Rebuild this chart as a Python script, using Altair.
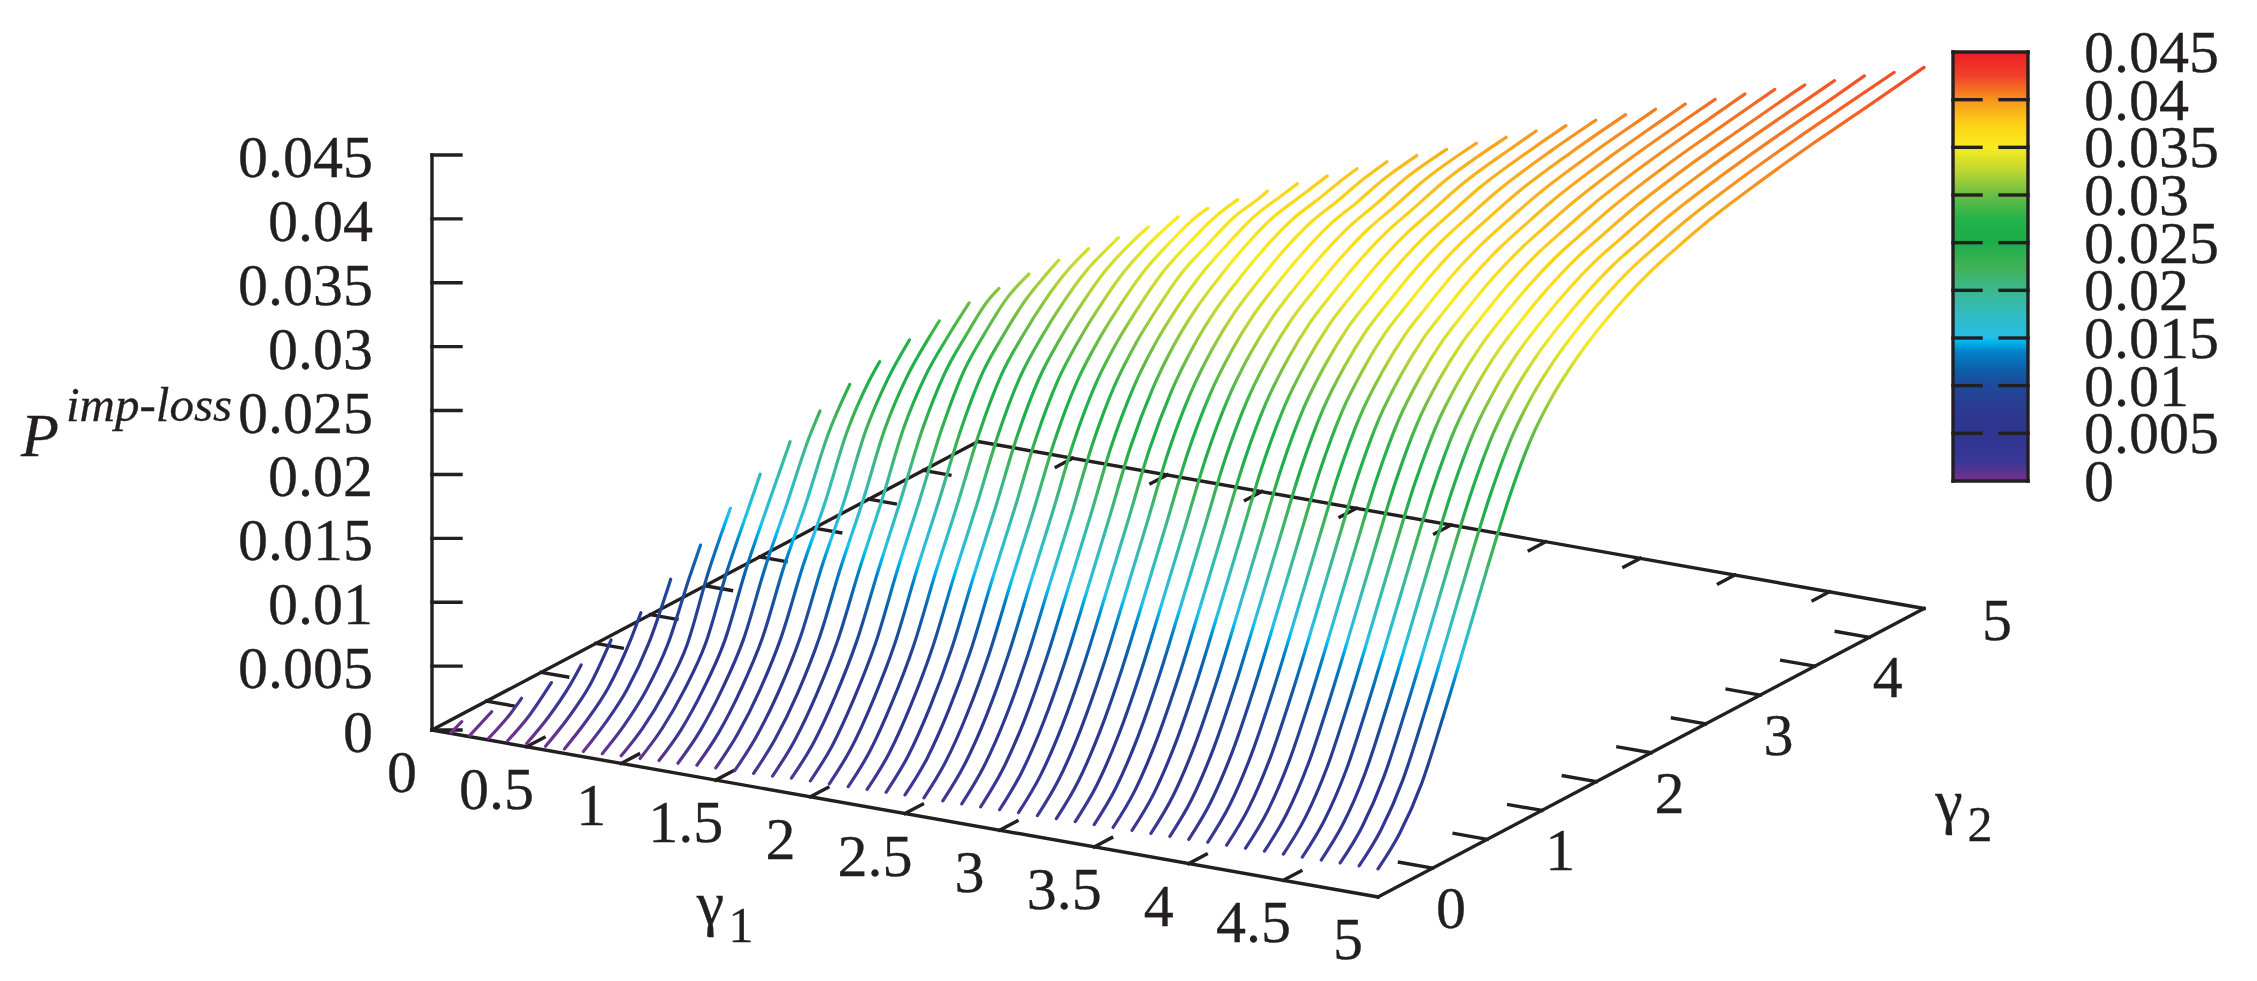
import altair as alt
import pandas as pd
import numpy as np

# ---- read values: P(gamma1, gamma2), one array per gamma2 sample, running over gamma1 ----
G00 = [.00005,.0001,.00015,.0002,.00025,.0003,.00035,.0004,.0005,.0006,
       .00065,.00075,.0008,.0009,.00095,.001,.00105,.0011,.0012,.00125,
       .00128,.00132,.00136,.0014,.00145,.00148,.00151,.00154,.00157,.0016,
       .00163,.00166,.00169,.00172,.00175,.00178,.00181,.00184,.00187,.0019,
       .00193,.00196,.00199,.00202,.00205,.00208,.00211,.00214,.00217,.0022]
G02 = [.00118,.0013,.00142,.00153,.00163,.00172,.00181,.0019,
       .00207,.00223,.00239,.00255,.0027,.00279,.00287,.00295,.00303,.0031,
       .00316,.00322,.00327,.00332,.00337,.00342,.00347,.00352,.00356,.0036,
       .00363,.00366,.00369,.00372,.00375,.00378,.00381,.00384,.00387,.0039,
       .00392,.00394,.00396,.00398,.004,.00402,.00404,.00406,.00408,.0041]
G04 = [.00305,.00318,.00331,.00346,.00362,.00381,
       .00413,.00443,.00471,.00497,.00518,.00533,.00546,.00563,.00577,.00589,
       .00599,.00608,.00615,.00622,.00628,.00634,.0064,.00647,.00653,.0066,
       .00664,.00669,.00673,.00677,.00681,.00685,.00688,.00692,.00695,.00698,
       .007,.00701,.00702,.00703,.00704,.00705,.00706,.00707,.00708,.00709]
G06 = [.00605,.0062,.00635,.0065,
       .00695,.00738,.00778,.00815,.0085,.00871,.00891,.0091,.00927,.0094,
       .00955,.00968,.0098,.00992,.01,.01012,.01024,.01034,.01042,.0105,
       .01056,.01062,.01068,.01074,.0108,.01086,.01092,.01098,.01104,.0111,
       .01114,.01118,.01122,.01126,.0113,.01134,.01138,.01142,.01146,.0115]
G08 = [.01074,.0114,
       .0118,.0122,.01255,.0129,.0132,.01342,.01362,.0138,.014,.01424,
       .01436,.01446,.01456,.01465,.01474,.01482,.0149,.01497,.01504,.0151,
       .01517,.01524,.01531,.01538,.01545,.01552,.01559,.01566,.01573,.0158,
       .01585,.0159,.01595,.016,.01605,.0161,.01615,.0162,.01625,.0163]
G10 = [.0159,.0163,.01665,.0169,.0172,.01752,.01785,.01815,.01845,.0187,
       .0188,.0189,.01901,.01912,.01923,.01934,.01945,.01956,.01968,.0198,
       .01988,.01996,.02004,.02012,.0202,.02028,.02036,.02044,.02052,.0206,
       .02066,.02072,.02078,.02084,.0209,.02096,.02102,.02108,.02114,.0212]
G12 = [.02085,.02135,.0218,.0222,.02255,.0229,.0231,.0233,
       .02345,.02358,.02371,.02384,.02397,.0241,.02422,.02434,.02447,.0246,
       .02467,.02474,.02481,.02488,.02495,.02502,.02509,.02516,.02523,.0253,
       .02535,.0254,.02545,.0255,.02555,.0256,.02565,.0257,.02575,.0258]
G14 = [.02485,.0253,.0257,.0261,.0265,.0269,
       .02705,.02718,.02731,.02744,.02757,.0277,.02783,.02796,.02808,.0282,
       .02828,.02836,.02844,.02852,.0286,.02868,.02876,.02884,.02892,.029,
       .02905,.0291,.02915,.0292,.02925,.0293,.02935,.0294,.02945,.0295]
G16 = [.02785,.0282,.02865,.0291,
       .02925,.02942,.02959,.02976,.02993,.0301,.03027,.03044,.03062,.0308,
       .03087,.03094,.03101,.03108,.03115,.03122,.03129,.03136,.03143,.0315,
       .03155,.0316,.03165,.0317,.03175,.0318,.03185,.0319,.03195,.032]
G18 = [.03045,.0309,
       .03105,.03123,.03141,.03159,.03177,.03195,.03213,.03231,.0325,.0327,
       .03277,.03284,.03291,.03298,.03305,.03312,.03319,.03326,.03333,.0334,
       .03344,.03348,.03352,.03356,.0336,.03364,.03368,.03372,.03376,.0338]
G20 = [.03225,.0326,.03285,.0331,.0333,.0335,.0337,.0339,.034,.0341,
       .03416,.03422,.03428,.03434,.0344,.03446,.03452,.03458,.03464,.0347,
       .03475,.0348,.03485,.0349,.03495,.035,.03505,.0351,.03515,.0352]
G225 = [.03395,.03428,.03455,.03478,.03498,.03515,.03535,.03556,
        .03562,.03568,.03574,.0358,.03586,.03592,.03598,.03604,.03612,.0362,
        .03624,.03628,.03632,.03636,.0364,.03644,.03648,.03652,.03656,.0366]
G25 = [.03572,.03598,.03622,.03644,.03664,
       .03671,.03678,.03685,.03692,.03699,.03706,.03713,.0372,.03726,.03733,
       .03737,.03741,.03745,.03749,.03753,.03757,.03761,.03765,.03768,.0377]
G275 = [.0367,.03695,.03715,
        .03726,.03737,.03748,.03759,.0377,.03781,.03791,.038,.03808,.03815,
        .03819,.03823,.03826,.03829,.03832,.03835,.03838,.03841,.03846,.0385]
G30 = [.03785,.03803,.0382,.03835,.03847,.03858,.03868,.03876,.03883,.0389,
       .03893,.03896,.03899,.03902,.03905,.03908,.03911,.03914,.03917,.0392]
G35 = [.03942,.03955,.03966,.03977,.03985,.03991,.03997,.04002,.04006,.0401,
       .04013,.04015,.04017,.04019,.0402]
G40 = [.04064,.04072,.04078,.04083,.04087,.0409,.04093,.04096,.04098,.041]
G45 = [.0416,.04161,.04162,.04164,.04165]
# value where each curve ends (gamma2 == gamma1)
ENDS = [.00046,.00105,.00191,.00294,.00414,.0059,.00785,.01028,.01276,.01545,
        .01794,.02028,.02249,.02439,.02597,.02748,.02878,.03,.03095,.03188,
        .03277,.03348,.03415,.0348,.0354,.03588,.03637,.03686,.03724,.03765,
        .03803,.03839,.03868,.03897,.03926,.03954,.03984,.04007,.0403,.04055,
        .04078,.041,.04118,.04141,.04158,.04173,.04188,.04206,.04215,.04235]

COLUMNS = {0.0: G00, .2: G02, .4: G04, .6: G06, .8: G08, 1.0: G10, 1.2: G12, 1.4: G14,
           1.6: G16, 1.8: G18, 2.0: G20, 2.25: G225, 2.5: G25, 2.75: G275, 3.0: G30,
           3.5: G35, 4.0: G40, 4.5: G45}

Z_TICKS = [0, .005, .01, .015, .02, .025, .03, .035, .04, .045]
Z_LABELS = ["0", "0.005", "0.01", "0.015", "0.02", "0.025", "0.03", "0.035", "0.04", "0.045"]
G1_TICKS = [0, .5, 1, 1.5, 2, 2.5, 3, 3.5, 4, 4.5, 5]
G1_LABELS = ["0", "0.5", "1", "1.5", "2", "2.5", "3", "3.5", "4", "4.5", "5"]
G2_TICKS = [0, 1, 2, 3, 4, 5]
G2_MINOR = [.5, 1, 1.5, 2, 2.5, 3, 3.5, 4, 4.5]
G2_LABELS = ["0", "1", "2", "3", "4", "5"]

COLOR_Z = [0, .001, .002, .005, .0075, .01, .0115, .0135, .0148, .015, .0175, .02, .0225,
           .025, .0275, .03, .0325, .035, .0375, .04, .0425, .045]
COLORS = ["#7b2f8e", "#5a3390", "#3b3795", "#2e3591", "#2b3990", "#1f4a9a", "#0f5ca8", "#0080c8",
          "#00bff3", "#27bde8", "#30bcc0", "#3cb890", "#3fb254", "#1cae4a", "#24b24a", "#6abd45",
          "#bcd631", "#f9ec1f", "#fcd116", "#f7941d", "#f1402a", "#ed1c24"]

INK = "#231f20"
FONT = "Liberation Serif"
RGB = np.array([[int(c[i:i + 2], 16) for i in (1, 3, 5)] for c in COLORS], dtype=float)


def color_of(z):
    r, g, b = (int(round(np.interp(z, COLOR_Z, RGB[:, k]))) for k in range(3))
    return f"#{r:02x}{g:02x}{b:02x}"


# ---- oblique projection of (gamma1, gamma2, P) onto the page ----
def px(g1, g2):
    return 432 + 189.2 * g1 + 109.2 * g2


def py(g1, g2, z=0.0):
    return 730 + 33.4 * g1 - 57.7 * g2 - 12778 * z


def bar_y(z):
    return 481 - z / 0.045 * 429


X = alt.X("x:Q", scale=alt.Scale(domain=[8, 2249]), axis=None)
Y = alt.Y("y:Q", scale=alt.Scale(domain=[973, 8]), axis=None)

# ---- curves: each one keeps its own vertical colour gradient ----
curve_layers = []
for i in range(50):
    g1 = round((i + 1) / 10, 1)
    pts = []
    for g2, col in COLUMNS.items():
        if g2 < g1 - 1e-9:
            pts.append((g2, col[i - (50 - len(col))]))
    pts.append((g1, ENDS[i]))
    g2s = [p[0] for p in pts]
    zs = [p[1] for p in pts]
    ys = [py(g1, a, b) for a, b in pts]
    df = pd.DataFrame(dict(x=[px(g1, a) for a in g2s], y=ys, order=range(len(pts))))
    bottom, top = ys[0], ys[-1]
    marks = [zs[0]] + [c for c in COLOR_Z if zs[0] < c < zs[-1]] + [zs[-1]]
    stops = [alt.GradientStop(offset=float((np.interp(m, zs, ys) - bottom) / (top - bottom)),
                              color=color_of(m)) for m in marks]
    grad = alt.Gradient(gradient="linear", stops=stops, x1=0, x2=0, y1=1, y2=0)
    curve_layers.append(
        alt.Chart(df).mark_line(color=grad, strokeWidth=3.2, strokeCap="round", interpolate="monotone")
        .encode(X, Y, order="order:Q")
    )

# ---- frame and ticks ----
frame = []


def seg(a, b):
    frame.append(dict(x=a[0], y=a[1], x2=b[0], y2=b[1]))


def P(g1, g2, z=0.0):
    return px(g1, g2), py(g1, g2, z)


seg(P(0, 0), P(5, 0))
seg(P(5, 0), P(5, 5))
seg(P(5, 5), P(0, 5))
seg(P(0, 5), P(0, 0))
seg(P(0, 0), P(0, 0, .045))
for z in Z_TICKS:
    a = P(0, 0, z)
    seg(a, (a[0] + 29, a[1]))
for g in G1_TICKS[1:-1]:
    seg(P(g, 0), P(g, .16))
    seg(P(g, 5), P(g, 4.85))
for g in G2_MINOR:
    seg(P(5, g), P(4.825, g))
    seg(P(0, g), P(.14, g))
bar_frame = []
for a, b in [((1953, 0), (2028, 0)), ((1953, .045), (2028, .045)),
             ((1953, 0), (1953, .045)), ((2028, 0), (2028, .045))]:
    bar_frame.append(dict(x=a[0], y=bar_y(a[1]), x2=b[0], y2=bar_y(b[1])))
for z in Z_TICKS[1:-1]:
    bar_frame.append(dict(x=1953, y=bar_y(z), x2=1981, y2=bar_y(z)))
    bar_frame.append(dict(x=2000, y=bar_y(z), x2=2028, y2=bar_y(z)))
frame = pd.DataFrame(frame)
bar_frame = pd.DataFrame(bar_frame)

bar_grad = alt.Gradient(
    gradient="linear", x1=0, x2=0, y1=1, y2=0,
    stops=[alt.GradientStop(offset=z / .045, color=c) for z, c in zip(COLOR_Z, COLORS)])
bar_layer = alt.Chart(pd.DataFrame(dict(x=[1953], x2=[2028], y=[bar_y(0)], y2=[bar_y(.045)]))).mark_rect(
    color=bar_grad).encode(X, Y, x2="x2:Q", y2="y2:Q")

# ---- text ----
right = pd.DataFrame(dict(x=[373] * 10, y=[py(0, 0, z) + 4 for z in Z_TICKS], t=Z_LABELS))
left = pd.DataFrame(dict(x=[2084] * 10, y=[bar_y(z) + 2 for z in Z_TICKS], t=Z_LABELS))
center = pd.DataFrame(dict(
    x=[px(g, 0) - 30 for g in G1_TICKS] + [px(5, g) + 73 for g in G2_TICKS],
    y=[py(g, 0) + 44 for g in G1_TICKS] + [py(5, g) + 13 for g in G2_TICKS],
    t=G1_LABELS + G2_LABELS))

frame_layer = alt.Chart(frame).mark_rule(color=INK, strokeWidth=3.4, strokeCap="square").encode(X, Y, x2="x2:Q", y2="y2:Q")
bar_frame_layer = alt.Chart(bar_frame).mark_rule(color=INK, strokeWidth=3.4, strokeCap="square").encode(X, Y, x2="x2:Q", y2="y2:Q")


def text(df, baseline="middle", **kw):
    return alt.Chart(df).mark_text(font=FONT, color=INK, baseline=baseline, stroke=INK, strokeWidth=0.3, **kw).encode(X, Y, text="t:N")


layers = [frame_layer] + curve_layers + [
    bar_layer, bar_frame_layer,
    text(right, fontSize=60, align="right"),
    text(left, fontSize=60, align="left"),
    text(center, fontSize=60, align="center"),
    text(pd.DataFrame(dict(x=[21], y=[437], t=["P"])), fontSize=62, align="left", fontStyle="italic"),
    text(pd.DataFrame(dict(x=[66], y=[406], t=["imp-loss"])), fontSize=49, align="left", fontStyle="italic"),
    text(pd.DataFrame(dict(x=[710.5, 1949], y=[924, 822], t=["\u03b3", "\u03b3"])), baseline="alphabetic", fontSize=62, align="center"),
    text(pd.DataFrame(dict(x=[741, 1980], y=[942, 841], t=["1", "2"])), baseline="alphabetic", fontSize=50, align="center"),
]

chart = alt.layer(*layers).properties(
    width=2241, height=965, padding=0, autosize=alt.AutoSizeParams(type="none"), background="white"
).configure_view(stroke=None)

chart.save("out.html", embed_options={"renderer": "svg", "actions": False})
